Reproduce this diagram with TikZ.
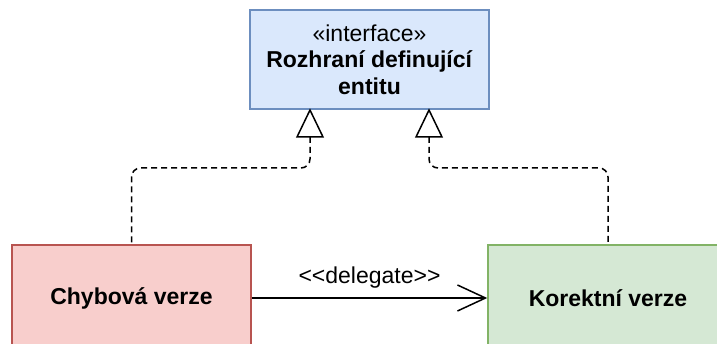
\documentclass[tikz,border=0pt]{standalone}
\usepackage{fontspec}
\setmainfont{Liberation Sans}
\usetikzlibrary{arrows.meta}
\definecolor{bluefill}{HTML}{DAE8FC}
\definecolor{bluedraw}{HTML}{6C8EBF}
\definecolor{redfill}{HTML}{F8CECC}
\definecolor{reddraw}{HTML}{B85450}
\definecolor{greenfill}{HTML}{D5E8D4}
\definecolor{greendraw}{HTML}{82B366}
\begin{document}
\begin{tikzpicture}[x=1pt,y=-1pt,
  box/.style={rectangle, line width=1.5pt, inner sep=0pt, align=center,
    font=\fontsize{23}{26.7}\selectfont},
  real/.style={line width=1.5pt, dash pattern=on 6pt off 4pt, rounded corners=9pt},
  tri/.style={line width=1.5pt, fill=white, line join=miter}]
\useasboundingbox (0,0) rectangle (717,344);
\clip (0,0) rectangle (717,344);
\node[box, fill=bluefill, draw=bluedraw, minimum width=239pt, minimum height=99pt] (iface) at (369.5,59.5)
  {«interface»\\\textbf{Rozhraní definující}\\\textbf{entitu}};
\node[box, fill=redfill, draw=reddraw, minimum width=239pt, minimum height=106pt] (chyb) at (131.5,298)
  {\textbf{Chybová verze}};
\node[box, fill=greenfill, draw=greendraw, minimum width=240pt, minimum height=106pt] (kor) at (608,298)
  {\textbf{Korektní verze}};
\coordinate (t1) at (310,110);
\coordinate (t2) at (429,110);
\coordinate (b1) at (310,137);
\coordinate (b2) at (429,137);
\coordinate (m1) at (310,168);
\coordinate (m2) at (429,168);
\draw[real] (b1) -- (m1) -| (chyb.north);
\draw[real] (b2) -- (m2) -| (kor.north);
\draw[tri] (t1) -- (b1 -| 297,0) -- (b1 -| 323,0) -- cycle;
\draw[tri] (t2) -- (b2 -| 416,0) -- (b2 -| 442,0) -- cycle;
\draw[line width=1.5pt, -{Straight Barb[length=28pt,width=26pt,line width=1.5pt]}] (chyb.east) -- (kor.west)
  node[pos=0.5, above=6pt, font=\fontsize{23}{26}\selectfont] (lbl) {<{}<delegate>{}>};
\end{tikzpicture}
\end{document}
